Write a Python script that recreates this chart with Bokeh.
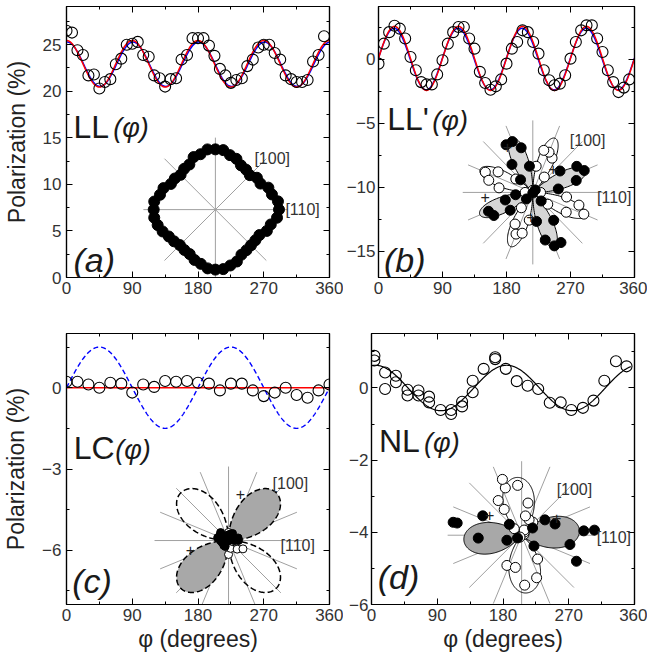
import numpy as np
from bokeh.plotting import figure
from bokeh.layouts import column, row
from bokeh.models import LinearAxis, Label, FixedTicker, Range1d
from bokeh.embed import file_html
from bokeh.resources import INLINE

FONT = "Liberation Sans"
TXT = "#1a1a1a"

# ---------------- data ----------------
PHI_LL = [0.0, 7.5, 15.0, 22.5, 30.0, 37.5, 45.0, 52.5, 60.0, 67.5, 75.0, 82.5,
          90.0, 97.5, 105.0, 112.5, 120.0, 127.5, 135.0, 142.5, 150.0, 157.5, 165.0, 172.5,
          180.0, 187.5, 195.0, 202.5, 210.0, 217.5, 225.0, 232.5, 240.0, 247.5, 255.0, 262.5,
          270.0, 277.5, 285.0, 292.5, 300.0, 307.5, 315.0, 322.5, 330.0, 337.5, 345.0, 352.5]
LL = [26.5, 26.3, 24.4, 23.9, 21.7, 21.8, 20.3, 21.0, 21.3, 22.9, 23.5, 25.0,
      25.1, 25.3, 23.9, 23.7, 21.7, 21.4, 20.5, 21.3, 21.4, 23.4, 23.9, 25.7,
      25.7, 25.7, 24.9, 23.8, 22.4, 21.7, 20.9, 21.2, 21.4, 22.7, 23.4, 24.7,
      25.0, 25.0, 24.1, 23.4, 21.7, 21.3, 21.0, 21.0, 21.2, 23.2, 23.9, 25.9]
LLP = [-0.36, 1.2, 2.1, 2.6, 2.37, 1.6, 0.16, -0.88, -1.8, -1.98, -1.98, -1.2,
       -0.1, 1.2, 2.1, 2.5, 2.5, 1.6, 0.81, -1.0, -1.87, -2.4, -2.13, -1.59,
       -0.36, 0.81, 1.33, 2.24, 2.1, 1.33, 0.42, -0.88, -1.66, -2.05, -1.92, -1.27,
       0.03, 1.33, 2.24, 2.63, 2.63, 1.6, 0.55, -0.88, -1.8, -2.58, -2.23, -1.59]
PHI_LC = [0, 15, 30, 45, 60, 75, 90, 105, 120, 135, 150, 165, 180,
          195, 210, 225, 240, 255, 270, 285, 300, 315, 330, 345, 360]
LC = [0.22, 0.22, 0.12, 0.0, 0.18, 0.15, -0.18, 0.12, 0.03, 0.25, 0.22, 0.25, 0.18,
      0.15, -0.1, 0.15, 0.15, -0.1, -0.31, -0.18, 0.0, -0.27, -0.37, -0.1, 0.12]
PHI_NL = [4, 4, 18.6, 18.6, 33.4, 33.4, 49.3, 49.3, 64.3, 64.3, 78.8, 78.8, 94.6,
          109, 109, 124, 124, 138.5, 138.5, 153.5, 169.3, 169.3, 183.8, 198.8, 213.7,
          228.2, 244, 259, 273.5, 289.4, 303.8, 318.7, 334.6, 349.1]
NL = [0.89, 0.76, 0.43, -0.03, 0.34, 0.16, -0.05, -0.21, -0.07, -0.21, -0.24, -0.40, -0.61,
      -0.61, -0.72, -0.38, -0.51, 0.20, -0.12, 0.53, 0.85, 0.80, 0.53, 0.19, 0.06,
      -0.03, -0.41, -0.40, -0.61, -0.55, -0.35, 0.20, 0.74, 0.60]

# fitted curves: (offset, amplitude, harmonic n, phase deg) -> offset + amp*cos(n*(phi-phase))
FIT_LL_RED = (22.95, 2.5, 4, 0.0)
FIT_LL_BLUE = (22.9, 2.38, 4, 1.0)
FIT_LLP_RED = (0.05, 2.5, 4, 22.5)
FIT_LLP_BLUE = (0.0, 2.4, 4, 22.0)
FIT_LC_RED = (0.0, 0.0, 2, 0.0)
FIT_LC_BLUE = (0.0, 1.5, 2, 45.0)
FIT_NL = (0.0, 0.63, 2, 5.0)

X_TICKS = [0, 90, 180, 270, 360]
X_MINOR = [45, 135, 225, 315]

FRAME_W = 263
FRAME_H = 271


def fit(params, phi):
    o, a, n, ph = params
    return o + a * np.cos(np.radians(n * (np.asarray(phi) - ph)))


def make_fig(w, h, bl, br, bt, bb, yr, yt, ym, ylabel=None, xlabel=None, ystand=5):
    p = figure(width=w, height=h, x_range=Range1d(0, 360), y_range=Range1d(*yr),
               output_backend="svg", toolbar_location=None,
               min_border_left=bl, min_border_right=br, min_border_top=bt, min_border_bottom=bb)
    p.grid.visible = False
    p.outline_line_color = "black"
    p.outline_line_width = 1.2
    p.xaxis.ticker = FixedTicker(ticks=X_TICKS, minor_ticks=X_MINOR)
    p.yaxis.ticker = FixedTicker(ticks=yt, minor_ticks=ym)
    top = LinearAxis(ticker=FixedTicker(ticks=X_TICKS, minor_ticks=X_MINOR))
    right = LinearAxis(ticker=FixedTicker(ticks=yt, minor_ticks=ym))
    p.add_layout(top, "above")
    p.add_layout(right, "right")
    for ax in [p.below[0], p.left[0], top, right]:
        ax.axis_line_color = "black"
        ax.axis_line_width = 1.2
        ax.major_tick_in = 6
        ax.major_tick_out = 0
        ax.minor_tick_in = 3
        ax.minor_tick_out = 0
        ax.major_tick_line_color = "black"
        ax.minor_tick_line_color = "black"
        ax.major_label_text_font = FONT
        ax.major_label_text_font_size = "17px"
        ax.major_label_text_color = "#333333"
    p.below[0].major_label_standoff = 4
    p.left[0].major_label_standoff = ystand
    for ax in [top, right]:
        ax.major_label_text_font_size = "0px"
        ax.major_label_standoff = 0
    if ylabel:
        ax = p.left[0]
        ax.axis_label = ylabel
        ax.axis_label_text_font = FONT
        ax.axis_label_text_font_size = "23px"
        ax.axis_label_text_font_style = "normal"
        ax.axis_label_text_color = "#222222"
        ax.axis_label_standoff = 10
    if xlabel:
        ax = p.below[0]
        ax.axis_label = xlabel
        ax.axis_label_text_font = FONT
        ax.axis_label_text_font_size = "23px"
        ax.axis_label_text_font_style = "normal"
        ax.axis_label_text_color = "#222222"
        ax.axis_label_standoff = 2
    return p


def add_texts(p, yspan, big, bigpos, phix, tag, tagpos):
    sy = FRAME_H / yspan

    def mid(base, fs):
        return base + 0.35 * fs / sy

    p.add_layout(Label(x=bigpos[0], y=mid(bigpos[1], 32), text=big, text_font=FONT, text_font_size="32px",
                       text_color=TXT, text_baseline="middle"))
    p.add_layout(Label(x=phix, y=mid(bigpos[1], 27), text="(φ)", text_font=FONT, text_font_size="27px",
                       text_font_style="italic", text_color=TXT, text_baseline="middle"))
    p.add_layout(Label(x=tagpos[0], y=mid(tagpos[1], 34), text=tag, text_font=FONT, text_font_size="34px",
                       text_font_style="italic", text_color=TXT, text_baseline="middle"))


def add_inset(p, yspan, cx, cy, line_angles, L, phi, vals, k, lobe=None, lobe_k=None, lobe_fill=None,
              lobe_dash="solid", lobe_width=1.0, dot=10, labels=(), pluses=()):
    sx = FRAME_W / 360.0
    sy = FRAME_H / yspan
    xs, ys = [], []
    for a in line_angles:
        c, s = np.cos(np.radians(a)), np.sin(np.radians(a))
        xs.append([cx - L * c / sx, cx + L * c / sx])
        ys.append([cy - L * s / sy, cy + L * s / sy])
    p.multi_line(xs, ys, line_color="#a0a0a0", line_width=1)
    if lobe is not None:
        g = np.arange(0, 360, 0.5)
        f = fit((0.0,) + tuple(lobe[1:]), g)
        pos = f >= 0
        ch = np.where(pos != np.roll(pos, 1))[0]
        i0 = ch[0]
        g = np.roll(g, -i0)
        f = np.roll(f, -i0)
        pos = f >= 0
        segs = []
        st = 0
        for i in range(1, len(f) + 1):
            if i == len(f) or pos[i] != pos[st]:
                segs.append((st, i))
                st = i
        px_, py_, nx_, ny_ = [], [], [], []
        for s0, e0 in segs:
            gg = g[s0:e0]
            r = np.abs(f[s0:e0]) * lobe_k
            xx = [cx] + list(cx + r * np.cos(np.radians(gg)) / sx) + [cx]
            yy = [cy] + list(cy + r * np.sin(np.radians(gg)) / sy) + [cy]
            if pos[s0]:
                px_.append(xx); py_.append(yy)
            else:
                nx_.append(xx); ny_.append(yy)
        p.patches(nx_, ny_, fill_color=None, line_color="black", line_width=lobe_width, line_dash=lobe_dash)
        p.patches(px_, py_, fill_color=lobe_fill, line_color="black", line_width=lobe_width, line_dash=lobe_dash)
    ph = np.radians(np.asarray(phi, dtype=float))
    v = np.asarray(vals, dtype=float)
    r = np.abs(v) * k
    x = cx + r * np.cos(ph) / sx
    y = cy + r * np.sin(ph) / sy
    neg = v < 0
    if neg.any():
        p.scatter(x[neg], y[neg], size=dot, fill_color="white", line_color="black", line_width=1)
    p.scatter(x[~neg], y[~neg], size=dot, fill_color="black", line_color="black", line_width=1)
    for txt, dx, dy in labels:
        p.add_layout(Label(x=cx + dx / sx, y=cy + dy / sy, text=txt, text_font=FONT, text_font_size="16px",
                           text_color="#333333", text_align="left", text_baseline="middle"))
    for dx, dy in pluses:
        p.add_layout(Label(x=cx + dx / sx, y=cy + dy / sy, text="+", text_font=FONT, text_font_size="16px",
                           text_color="#222222", text_align="center", text_baseline="middle"))


grid = np.linspace(0, 360, 721)
eight = [0, 22.5, 45, 67.5, 90, 112.5, 135, 157.5]

# ---------------- panel (a) ----------------
YA = (0, 29.1)
pa = make_fig(343, 320, 66, 14, 6, 43, YA, [0, 5, 10, 15, 20, 25], [2.5, 7.5, 12.5, 17.5, 22.5, 27.5],
              ylabel="Polarization (%)")
pa.line(grid, fit(FIT_LL_BLUE, grid), line_color="blue", line_width=1.5)
pa.line(grid, fit(FIT_LL_RED, grid), line_color="red", line_width=1.5)
pa.scatter(PHI_LL, LL, size=11, fill_color=None, line_color="black", line_width=1.1)
add_inset(pa, YA[1] - YA[0], 203.8, 7.29, [0, 45, 90, 135], 72, PHI_LL, LL, 2.4, dot=11,
          labels=[("[100]", 39, 51), ("[110]", 70, 0)])
add_texts(pa, YA[1] - YA[0], "LL", (9.5, 15.0), 64, "(a)", (9.5, 0.57))

# ---------------- panel (b) ----------------
YB = (-17.05, 4.1)
pb = make_fig(304, 320, 28, 13, 6, 43, YB, [-15, -10, -5, 0], [-12.5, -7.5, -2.5, 2.5], ystand=3)
pb.line(grid, fit(FIT_LLP_BLUE, grid), line_color="blue", line_width=1.5)
pb.line(grid, fit(FIT_LLP_RED, grid), line_color="red", line_width=1.5)
pb.scatter(PHI_LL, LLP, size=11, fill_color=None, line_color="black", line_width=1.1)
add_inset(pb, YB[1] - YB[0], 217, -10.41, eight, 72, PHI_LL, LLP, 22, lobe=FIT_LLP_BLUE, lobe_k=24.5,
          lobe_fill="#d6d6d6", dot=10,
          labels=[("[100]", 38, 52), ("[110]", 66, -5)],
          pluses=[(-49, -5), (-26, 45), (21, 23), (-2, -25)])
add_texts(pb, YB[1] - YB[0], "LL'", (12.2, -5.57), 75.7, "(b)", (7.7, -16.64))

# ---------------- panel (c) ----------------
YC = (-8.0, 2.0)
pc = make_fig(343, 342, 66, 14, 13, 58, YC, [-6, -3, 0], [-7.5, -4.5, -1.5, 1.5],
              ylabel="Polarization (%)", xlabel="φ (degrees)")
pc.line(grid, fit(FIT_LC_BLUE, grid), line_color="blue", line_width=1.4, line_dash="5 3")
pc.line(grid, fit(FIT_LC_RED, grid), line_color="red", line_width=1.5)
pc.scatter(PHI_LC, LC, size=11, fill_color=None, line_color="black", line_width=1.1)
add_inset(pc, YC[1] - YC[0], 221.8, -5.64, eight, 74, PHI_LC, LC, 45, lobe=FIT_LC_BLUE, lobe_k=45,
          lobe_fill="#a8a8a8", lobe_dash="6 3", lobe_width=1.5, dot=8,
          labels=[("[100]", 44, 57), ("[110]", 52, -5)],
          pluses=[(12, 47), (-38, -9)])
add_texts(pc, YC[1] - YC[0], "LC", (10, -2.65), 66.6, "(c)", (7.7, -7.57))

# ---------------- panel (d) ----------------
YD = (-6.0, 1.51)
pd_ = make_fig(304, 342, 28, 13, 13, 58, YD, [-6, -4, -2, 0], [-5, -3, -1, 1], xlabel="φ (degrees)",
               ystand=3)
gd = np.linspace(0, 355, 711)
pd_.line(gd, fit(FIT_NL, gd), line_color="black", line_width=1.2)
pd_.scatter(PHI_NL, NL, size=11, fill_color=None, line_color="black", line_width=1.1)
add_inset(pd_, YD[1] - YD[0], 205.5, -4.08, eight, 74, PHI_NL, NL, 82, lobe=FIT_NL, lobe_k=92,
          lobe_fill="#a8a8a8", dot=10,
          labels=[("[100]", 35, 46), ("[110]", 75, -2)],
          pluses=[(-32, 20), (35, 17)])
add_texts(pd_, YD[1] - YD[0], "NL", (10.1, -1.78), 71.9, "(d)", (8.6, -5.58))

layout = column(row(pa, pb), row(pc, pd_))
open("out.html", "w").write(file_html(layout, INLINE))
